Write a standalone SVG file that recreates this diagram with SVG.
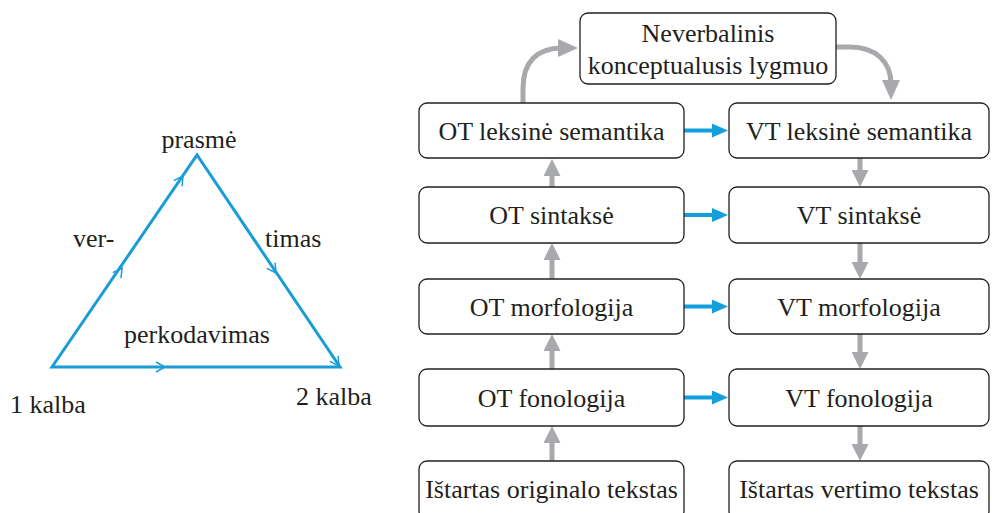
<svg xmlns="http://www.w3.org/2000/svg" xmlns:xlink="http://www.w3.org/1999/xlink" width="992" height="513" viewBox="0 0 992 513">
<style>
text{font-family:"Liberation Serif","Times New Roman",serif;font-size:26px;fill:#231f20}
.c{text-anchor:middle}
.box{fill:#fff;stroke:#231f20;stroke-width:1.3}
.tri{fill:none;stroke:#1a9cd8;stroke-width:3}
.chev{fill:none;stroke:#1a9cd8;stroke-width:1.5}
.g{fill:none;stroke:#a7a9ac;stroke-width:5}
.b{fill:none;stroke:#12a0dc;stroke-width:4}
</style>
<defs>
<marker id="mg" markerUnits="userSpaceOnUse" markerWidth="17" markerHeight="17" refX="4" refY="8.5" orient="auto" viewBox="0 0 17 17"><path d="M0,0 L17,8.5 L0,17 z" fill="#a7a9ac"/></marker>
<marker id="mgc" markerUnits="userSpaceOnUse" markerWidth="20" markerHeight="18" refX="4" refY="9" orient="auto" viewBox="0 0 20 18"><path d="M0,0 L20,9 L0,18 z" fill="#a7a9ac"/></marker>
<marker id="mb" markerUnits="userSpaceOnUse" markerWidth="16" markerHeight="14" refX="4" refY="7" orient="auto" viewBox="0 0 16 14"><path d="M0,0 L16,7 L0,14 z" fill="#12a0dc"/></marker>
<path id="chev" d="M-9,-5 L0,0 L-9,5"/>
</defs>

<g id="connectors">
  <polygon class="tri" points="52,367 197,155 340,367"/>
  <use href="#chev" class="chev" transform="translate(122,268) rotate(-55.6)"/>
  <use href="#chev" class="chev" transform="translate(183,176) rotate(-55.6)"/>
  <use href="#chev" class="chev" transform="translate(276,273) rotate(56)"/>
  <use href="#chev" class="chev" transform="translate(339,366) rotate(56)"/>
  <use href="#chev" class="chev" transform="translate(165,367)"/>

  <path class="g" d="M523,103 L523,88 C523,62 537,48 562,48" marker-end="url(#mgc)"/>
  <path class="g" d="M836,47 L850,47 C876,47 891,62 891,84" marker-end="url(#mgc)"/>

  <line class="g" x1="552" y1="187" x2="552" y2="172" marker-end="url(#mg)"/>
  <line class="g" x1="552" y1="279" x2="552" y2="256" marker-end="url(#mg)"/>
  <line class="g" x1="552" y1="369" x2="552" y2="347" marker-end="url(#mg)"/>
  <line class="g" x1="552" y1="461" x2="552" y2="439" marker-end="url(#mg)"/>

  <line class="g" x1="860" y1="158" x2="860" y2="174" marker-end="url(#mg)"/>
  <line class="g" x1="860" y1="243" x2="860" y2="266" marker-end="url(#mg)"/>
  <line class="g" x1="860" y1="334" x2="860" y2="356" marker-end="url(#mg)"/>
  <line class="g" x1="860" y1="426" x2="860" y2="448" marker-end="url(#mg)"/>

  <line class="b" x1="684" y1="130.5" x2="716" y2="130.5" marker-end="url(#mb)"/>
  <line class="b" x1="684" y1="215" x2="716" y2="215" marker-end="url(#mb)"/>
  <line class="b" x1="684" y1="306.5" x2="716" y2="306.5" marker-end="url(#mb)"/>
  <line class="b" x1="684" y1="397.5" x2="716" y2="397.5" marker-end="url(#mb)"/>
</g>

<g id="prasme"><text class="c" x="199" y="148">prasmė</text></g>
<g id="ver"><text x="73" y="247">ver-</text></g>
<g id="timas"><text x="265" y="247">timas</text></g>
<g id="perkodavimas"><text x="124" y="343">perkodavimas</text></g>
<g id="kalba1"><text x="10" y="413">1 kalba</text></g>
<g id="kalba2"><text x="296" y="405">2 kalba</text></g>

<g id="neverbalinis">
  <rect class="box" x="580" y="13" width="256" height="71" rx="8"/>
  <text class="c" x="708" y="42">Neverbalinis</text>
  <text class="c" x="708" y="74">konceptualusis lygmuo</text>
</g>

<g id="ot-leksine">
  <rect class="box" x="419" y="103" width="265" height="55" rx="8"/>
  <text class="c" x="551.5" y="140">OT leksinė semantika</text>
</g>
<g id="vt-leksine">
  <rect class="box" x="729" y="103" width="260" height="55" rx="8"/>
  <text class="c" x="859" y="140">VT leksinė semantika</text>
</g>
<g id="ot-sintakse">
  <rect class="box" x="419" y="187" width="265" height="56" rx="8"/>
  <text class="c" x="551.5" y="224">OT sintaksė</text>
</g>
<g id="vt-sintakse">
  <rect class="box" x="729" y="187" width="260" height="56" rx="8"/>
  <text class="c" x="859" y="224">VT sintaksė</text>
</g>
<g id="ot-morfologija">
  <rect class="box" x="419" y="279" width="265" height="55" rx="8"/>
  <text class="c" x="551.5" y="316">OT morfologija</text>
</g>
<g id="vt-morfologija">
  <rect class="box" x="729" y="279" width="260" height="55" rx="8"/>
  <text class="c" x="859" y="316">VT morfologija</text>
</g>
<g id="ot-fonologija">
  <rect class="box" x="419" y="369" width="265" height="57" rx="8"/>
  <text class="c" x="551.5" y="407">OT fonologija</text>
</g>
<g id="vt-fonologija">
  <rect class="box" x="729" y="369" width="260" height="57" rx="8"/>
  <text class="c" x="859" y="407">VT fonologija</text>
</g>
<g id="istartas-originalo">
  <rect class="box" x="419" y="461" width="265" height="58" rx="8"/>
  <text class="c" x="551.5" y="498">Ištartas originalo tekstas</text>
</g>
<g id="istartas-vertimo">
  <rect class="box" x="729" y="461" width="260" height="58" rx="8"/>
  <text class="c" x="859" y="498">Ištartas vertimo tekstas</text>
</g>
</svg>
